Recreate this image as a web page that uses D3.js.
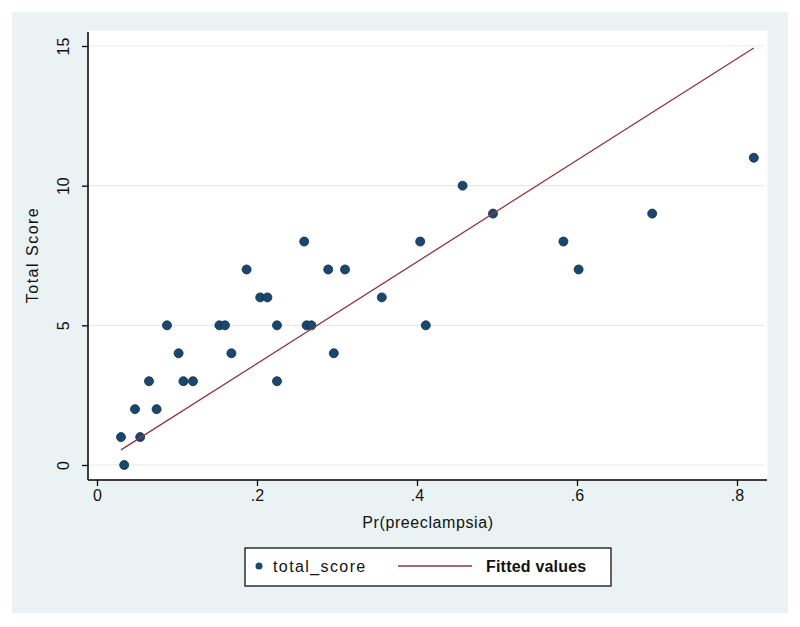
<!DOCTYPE html>
<html>
<head>
<meta charset="utf-8">
<script src="https://cdn.jsdelivr.net/npm/d3@7"></script>
<style>
  html, body { margin: 0; padding: 0; background: #ffffff; }
  svg { display: block; font-family: "Liberation Sans", Arial, sans-serif; }
</style>
</head>
<body>
<svg id="chart" width="800" height="627"></svg>
<script>
// ---- data ----
const prPreeclampsia = [0.030, 0.034, 0.0475, 0.054, 0.065, 0.0745, 0.0875, 0.102, 0.108, 0.120,
  0.153, 0.160, 0.168, 0.187, 0.204, 0.213, 0.225, 0.225, 0.259, 0.262,
  0.268, 0.289, 0.296, 0.310, 0.356, 0.404, 0.411, 0.457, 0.495, 0.583,
  0.602, 0.694, 0.821];
const totalScore = [1, 0, 2, 1, 3, 2, 5, 4, 3, 3,
  5, 5, 4, 7, 6, 6, 5, 3, 8, 5,
  5, 7, 4, 7, 6, 8, 5, 10, 9, 8,
  7, 9, 11];
const fittedX = [0.030, 0.821];
const fittedY = [0.54, 14.93];
const xTicks = [0, 0.2, 0.4, 0.6, 0.8];
const xTickLabels = ["0", ".2", ".4", ".6", ".8"];
const yTicks = [0, 5, 10, 15];
const yTickLabels = ["0", "5", "10", "15"];
const xTitle = "Pr(preeclampsia)";
const yTitle = "Total Score";
const legendLabels = ["total_score", "Fitted values"];

// ---- layout ----
const svg = d3.select("#chart");
const markerColor = "#1a476f";
const fitColor = "#90353b";
const bgColor = "#eaf2f3";

const plot = { left: 88, right: 768, top: 30, bottom: 480 };
const x = d3.scaleLinear().domain([0, 0.8]).range([97, 737]);
const y = d3.scaleLinear().domain([0, 15]).range([465, 46]);

// outer background
svg.append("rect").attr("x", 12).attr("y", 12).attr("width", 776).attr("height", 601)
  .attr("fill", bgColor);
// plot region
svg.append("rect").attr("x", plot.left).attr("y", plot.top)
  .attr("width", plot.right - plot.left).attr("height", plot.bottom - plot.top)
  .attr("fill", "#ffffff").attr("stroke", "#eef3f4").attr("stroke-width", 1);

// grid lines
svg.append("g").selectAll("line").data(yTicks).join("line")
  .attr("x1", plot.left).attr("x2", plot.right - 4)
  .attr("y1", d => y(d)).attr("y2", d => y(d))
  .attr("stroke", "#e3ebee").attr("stroke-width", 1.2);

// axes
const yAxis = d3.axisLeft(y).tickValues(yTicks).tickSize(6).tickPadding(6)
  .tickFormat((d, i) => yTickLabels[i]);
const gy = svg.append("g").attr("transform", `translate(${plot.left},0)`).call(yAxis);
gy.select(".domain").remove();
gy.selectAll(".tick line").attr("stroke", "#000").attr("stroke-width", 1.3);
gy.selectAll(".tick text")
  .attr("font-size", 16).attr("fill", "#111")
  .attr("font-family", "'Liberation Sans', Arial, sans-serif")
  .attr("text-anchor", "middle")
  .attr("x", null).attr("dy", null)
  .attr("transform", "translate(-19,0) rotate(-90)")
  .attr("dominant-baseline", "auto")
  .attr("y", 0);

const xAxis = d3.axisBottom(x).tickValues(xTicks).tickSize(6).tickPadding(4)
  .tickFormat((d, i) => xTickLabels[i]);
const gx = svg.append("g").attr("transform", `translate(0,${plot.bottom})`).call(xAxis);
gx.select(".domain").remove();
gx.selectAll(".tick line").attr("stroke", "#000").attr("stroke-width", 1.3);
gx.selectAll(".tick text")
  .attr("font-size", 16).attr("fill", "#111")
  .attr("font-family", "'Liberation Sans', Arial, sans-serif");

// axis lines
svg.append("line").attr("x1", plot.left).attr("x2", plot.left)
  .attr("y1", plot.top + 2).attr("y2", plot.bottom)
  .attr("stroke", "#000").attr("stroke-width", 1.5);
svg.append("line").attr("x1", plot.left).attr("x2", plot.right - 1)
  .attr("y1", plot.bottom).attr("y2", plot.bottom)
  .attr("stroke", "#000").attr("stroke-width", 1.5);

// titles
svg.append("text").attr("x", (plot.left + plot.right) / 2).attr("y", 528)
  .attr("text-anchor", "middle").attr("font-size", 16).attr("letter-spacing", 0.6)
  .attr("fill", "#111").text(xTitle);
svg.append("text").attr("transform", `translate(38,${(plot.top + plot.bottom) / 2}) rotate(-90)`)
  .attr("text-anchor", "middle").attr("font-size", 16).attr("letter-spacing", 1.5)
  .attr("fill", "#111").text(yTitle);

// points
svg.append("g").selectAll("circle").data(prPreeclampsia.map((v, i) => [v, totalScore[i]]))
  .join("circle")
  .attr("cx", d => x(d[0])).attr("cy", d => y(d[1])).attr("r", 4.5)
  .attr("fill", markerColor).attr("stroke", "#0f2c47").attr("stroke-width", 0.8);

// fitted line
svg.append("path")
  .datum(fittedX.map((v, i) => [v, fittedY[i]]))
  .attr("d", d3.line().x(d => x(d[0])).y(d => y(d[1])))
  .attr("fill", "none").attr("stroke", fitColor).attr("stroke-width", 1.3);

// legend
const lg = svg.append("g");
lg.append("rect").attr("x", 245).attr("y", 548).attr("width", 366).attr("height", 38)
  .attr("fill", "#ffffff").attr("stroke", "#111").attr("stroke-width", 1.3);
lg.append("circle").attr("cx", 259).attr("cy", 566).attr("r", 3.5).attr("fill", markerColor);
lg.append("text").attr("x", 273).attr("y", 572).attr("font-size", 16).attr("letter-spacing", 1.4)
  .attr("fill", "#111").text(legendLabels[0]);
lg.append("line").attr("x1", 398).attr("x2", 472).attr("y1", 566).attr("y2", 566)
  .attr("stroke", fitColor).attr("stroke-width", 1.3);
lg.append("text").attr("x", 486).attr("y", 572).attr("font-size", 16).attr("font-weight", "bold")
  .attr("letter-spacing", 0.2).attr("fill", "#111").text(legendLabels[1]);
</script>
</body>
</html>
